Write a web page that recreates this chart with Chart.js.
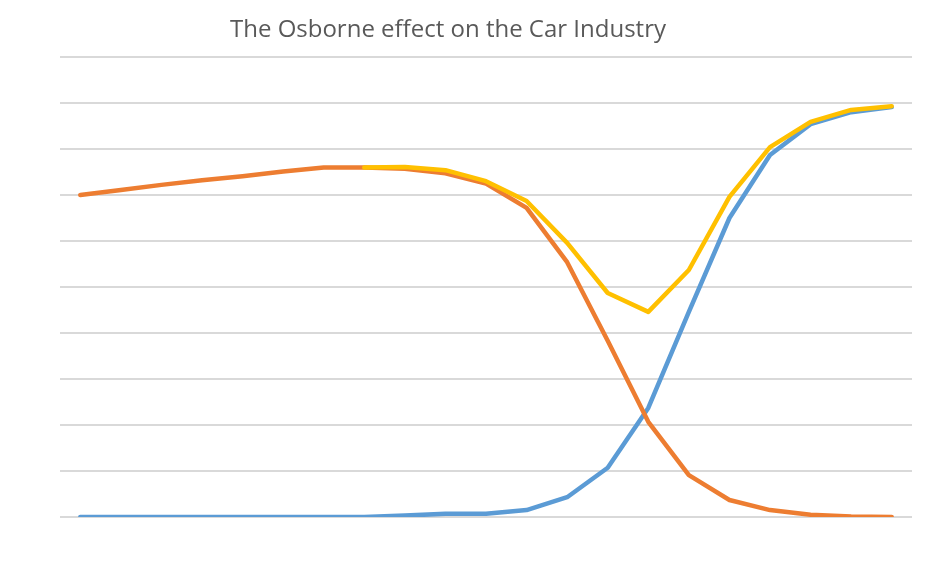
<!DOCTYPE html>
<html>
<head>
<meta charset="utf-8">
<script src="https://cdn.jsdelivr.net/npm/chart.js@4"></script>
<style>
  html, body { margin: 0; padding: 0; background: #fff; }
  #wrap { width: 931px; height: 565px; }
</style>
</head>
<body>
<div id="wrap"><canvas id="chart" width="931" height="565"></canvas></div>
<script>
// Valeurs (échelle 0-10, une ligne de grille par unité)
const chartTitle = 'The Osborne effect on the Car Industry';
const periods = ['1','2','3','4','5','6','7','8','9','10','11','12','13','14','15','16','17','18','19','20','21'];
const newCars = [0, 0, 0, 0, 0, 0, 0, 0, 0.03, 0.07, 0.07, 0.15, 0.43, 1.07, 2.37, 4.46, 6.5, 7.87, 8.54, 8.8, 8.91];
const oldCars = [7.0, 7.11, 7.22, 7.32, 7.41, 7.51, 7.6, 7.6, 7.57, 7.47, 7.25, 6.72, 5.54, 3.83, 2.07, 0.91, 0.37, 0.15, 0.05, 0.01, 0];
const total = [null, null, null, null, null, null, null, 7.6, 7.61, 7.54, 7.3, 6.87, 5.96, 4.87, 4.46, 5.37, 6.96, 8.04, 8.59, 8.85, 8.93];
const yMax = 10;

// titre dessiné à la main pour le placer comme sur l'original
const titlePlugin = {
  id: 'customTitle',
  afterDraw(chart) {
    const c = chart.ctx;
    c.save();
    c.fillStyle = '#595959';
    c.font = '24px "Open Sans", sans-serif';
    c.textAlign = 'center';
    c.textBaseline = 'alphabetic';
    c.fillText(chartTitle, 448, 37);
    c.restore();
  }
};

function lineSet(label, data, color, order) {
  return {
    label: label,
    data: data,
    borderColor: color,
    backgroundColor: color,
    borderWidth: 4.5,
    pointRadius: 0,
    tension: 0,
    fill: false,
    borderCapStyle: 'round',
    borderJoinStyle: 'round',
    order: order
  };
}

new Chart(document.getElementById('chart').getContext('2d'), {
  type: 'line',
  data: {
    labels: periods,
    datasets: [
      lineSet('New', newCars, '#5B9BD5', 3),
      lineSet('Old', oldCars, '#ED7D31', 2),
      lineSet('Total', total, '#FFC000', 1)
    ]
  },
  options: {
    responsive: false,
    animation: false,
    layout: { padding: { left: 60, right: 19, top: 57, bottom: 48 } },
    plugins: {
      legend: { display: false },
      title: { display: false },
      tooltip: { enabled: false }
    },
    scales: {
      x: {
        offset: true,
        grid: { display: false, drawTicks: false },
        border: { display: false },
        ticks: { display: false }
      },
      y: {
        min: 0,
        max: yMax,
        ticks: { display: false, stepSize: 1 },
        grid: { color: '#D9D9D9', lineWidth: 2, drawTicks: false },
        border: { display: false }
      }
    }
  },
  plugins: [titlePlugin]
});
</script>
</body>
</html>
